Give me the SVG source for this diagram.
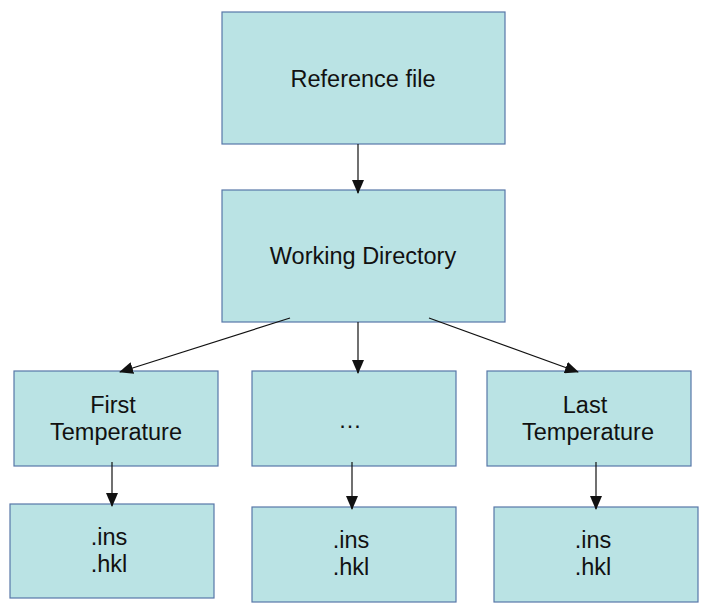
<svg xmlns="http://www.w3.org/2000/svg" width="706" height="610" viewBox="0 0 706 610">
<style>
.box{fill:#bae3e4;stroke:#5877a8;stroke-width:1.2}
.t{font-family:"Liberation Sans",Arial,sans-serif;font-size:23.5px;fill:#111;text-anchor:middle}
.c{stroke:#111;stroke-width:1.2;fill:none;marker-end:url(#ah)}
</style>
<defs>
<marker id="ah" markerWidth="14" markerHeight="12" refX="13" refY="6" orient="auto" markerUnits="userSpaceOnUse" viewBox="0 0 14 12">
<path d="M0,0 L14,6 L0,12 Z" fill="#111"/>
</marker>
</defs>
<rect width="706" height="610" fill="#fff"/>
<g id="reference">
<rect class="box" x="222" y="12" width="283" height="132"/>
<text class="t" x="363" y="87">Reference file</text>
</g>
<g id="working">
<rect class="box" x="222" y="190" width="283" height="132"/>
<text class="t" x="363" y="264">Working Directory</text>
</g>
<g id="first">
<rect class="box" x="14" y="371" width="204" height="95"/>
<text class="t" x="113" y="413">First</text>
<text class="t" x="116" y="440">Temperature</text>
</g>
<g id="middle">
<rect class="box" x="252" y="371" width="204" height="95"/>
<text class="t" x="350" y="428">…</text>
</g>
<g id="last">
<rect class="box" x="487" y="371" width="204" height="95"/>
<text class="t" x="585" y="413">Last</text>
<text class="t" x="588" y="440">Temperature</text>
</g>
<g id="files1">
<rect class="box" x="10" y="504" width="204" height="94"/>
<text class="t" x="109" y="545">.ins</text>
<text class="t" x="109" y="572">.hkl</text>
</g>
<g id="files2">
<rect class="box" x="252" y="507" width="204" height="95"/>
<text class="t" x="351" y="548">.ins</text>
<text class="t" x="351" y="575">.hkl</text>
</g>
<g id="files3">
<rect class="box" x="494" y="507" width="204" height="95"/>
<text class="t" x="593" y="548">.ins</text>
<text class="t" x="593" y="575">.hkl</text>
</g>
<g id="connectors">
<line class="c" x1="358" y1="144" x2="358" y2="193"/>
<line class="c" x1="290" y1="318" x2="120" y2="372"/>
<line class="c" x1="358" y1="322" x2="358" y2="373"/>
<line class="c" x1="429" y1="318" x2="578" y2="372"/>
<line class="c" x1="112" y1="462" x2="112" y2="506"/>
<line class="c" x1="352" y1="462" x2="352" y2="509"/>
<line class="c" x1="596" y1="462" x2="596" y2="509"/>
</g>
</svg>
